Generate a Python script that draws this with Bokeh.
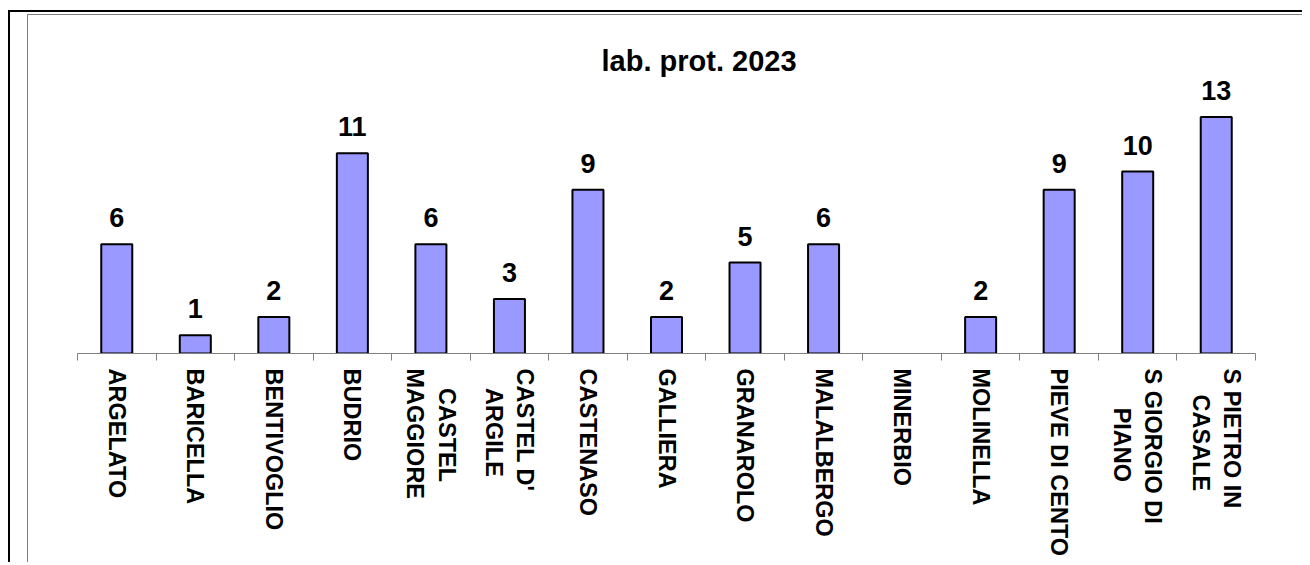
import math
from bokeh.plotting import figure
from bokeh.models import ColumnDataSource, Range1d, FixedTicker, LabelSet, Spacer
from bokeh.layouts import column, row
from bokeh.core.properties import value
from bokeh.embed import file_html
from bokeh.resources import INLINE

# ---- data ----
title_text = "lab. prot. 2023"
NB = "\u00a0"
categories = ["ARGELATO", "BARICELLA", "BENTIVOGLIO", "BUDRIO",
              NB * 3 + "CASTEL\nMAGGIORE", "CASTEL D'\n" + NB * 3 + "ARGILE",
              "CASTENASO", "GALLIERA", "GRANAROLO", "MALALBERGO", "MINERBIO",
              "MOLINELLA", "PIEVE DI CENTO", "S GIORGIO DI\n" + NB * 6 + "PIANO",
              "S PIETRO IN\n" + NB * 4 + "CASALE"]
values = [6, 1, 2, 11, 6, 3, 9, 2, 5, 6, None, 2, 9, 10, 13]

n = len(categories)
centers = [i + 0.5 for i in range(n)]
tops = [float("nan") if v is None else v for v in values]
texts = ["" if v is None else str(v) for v in values]
src = ColumnDataSource(dict(x=centers, top=tops, label=texts))

FONT = "Liberation Sans"

PW, PH = 1274, 547
FL, FW, FT, FH = 49, 1178, 65, 273
p = figure(width=PW, height=PH,
           x_range=Range1d(0, n), y_range=Range1d(0, 15),
           output_backend="svg", toolbar_location=None,
           min_border_left=FL, min_border_right=PW - FL - FW,
           min_border_top=FT, min_border_bottom=PH - FT - FH,
           title=title_text)
p.outline_line_color = None
p.grid.visible = False
p.yaxis.visible = False
p.background_fill_color = "white"
p.border_fill_color = "white"

p.title.align = "left"
p.title.offset = 524
p.title.text_font = FONT
p.title.text_font_size = "29px"
p.title.text_font_style = "bold"
p.title.text_color = "black"
p.title.standoff = 8

p.vbar(x="x", top="top", width=0.395, source=src,
       fill_color="#9999FF", line_color="black", line_width=2)

labels = LabelSet(x="x", y="top", text="label", source=src,
                  text_align="center", text_baseline="alphabetic",
                  y_offset=17, text_font=value(FONT), text_font_size="27px",
                  text_font_style="bold", text_color="black")
p.add_layout(labels)

ax = p.xaxis[0]
ax.ticker = FixedTicker(ticks=centers, minor_ticks=list(range(n + 1)))
ax.major_label_overrides = {c: cat for c, cat in zip(centers, categories)}
ax.major_label_orientation = -math.pi / 2
ax.major_label_standoff = 8
ax.major_label_text_font = FONT
ax.major_label_text_font_size = "23.5px"
ax.major_label_text_font_style = "bold"
ax.major_label_text_color = "black"
ax.major_tick_out = 0
ax.major_tick_in = 0
ax.minor_tick_out = 7
ax.minor_tick_in = 0
ax.minor_tick_line_color = "#808080"
ax.axis_line_color = "#808080"
ax.axis_line_width = 1

# chart-area borders built from plain coloured spacers
def bar_(w, h, color=None):
    st = {"background-color": color} if color else {}
    return Spacer(width=w, height=h, styles=st)

inner = row(bar_(17, PH + 1), bar_(1, PH + 1, "#808080"),
            column(bar_(PW, 1, "#808080"), p, spacing=0), spacing=0)
layout = column(
    bar_(10, 10),
    row(bar_(8, PH + 5),
        column(bar_(20 + PW, 2, "black"),
               row(bar_(2, PH + 3, "black"),
                   column(bar_(18 + PW, 2), inner, spacing=0),
                   spacing=0),
               spacing=0),
        spacing=0),
    spacing=0)

open("out.html", "w").write(file_html(layout, INLINE))
